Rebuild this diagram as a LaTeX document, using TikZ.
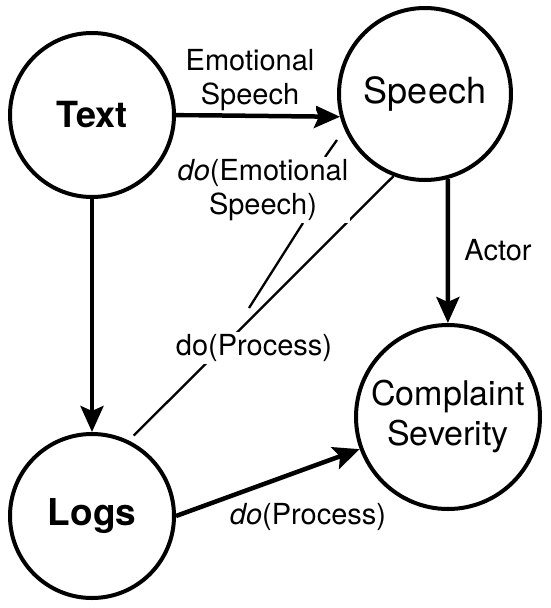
\documentclass[tikz,border=0pt]{standalone}
\usepackage{fontspec}
\setmainfont{TeX Gyre Heros}
\usetikzlibrary{arrows.meta}
\newlength{\smallvar}
\setlength{\smallvar}{164pt}
\tikzset{causalvar/.style={circle, draw, line width=4pt, inner sep=0pt, minimum size=\smallvar, font=\fontsize{36}{40}\selectfont}}
\tikzset{edgelabel/.style={fill=white, inner sep=2pt, align=center, font=\fontsize{29}{34}\selectfont}}
\tikzset{causal/.style={line width=4.5pt, -{Stealth[length=26pt, width=23pt, inset=5pt]}}}
\tikzset{intervene/.style={line width=2.3pt}}

\begin{document}
\begin{tikzpicture}[x=1pt, y=-1pt]
	\useasboundingbox[fill=white] (0,0) rectangle (550,608);
	
	%%% NODES %%%
	
	% VARIABLES
	\node[causalvar, font=\fontsize{36}{40}\selectfont\bfseries] at (92,115) (text) {Text};
	\node[causalvar, minimum size=172pt] at (425,94) (speech) {Speech};
	\node[causalvar, font=\fontsize{37}{40}\selectfont\bfseries] at (92,516) (logs) {Logs};
	\node[causalvar, minimum size=184pt, align=center, font=\fontsize{34}{40}\selectfont] at (448,417) (severity) {Complaint\\Severity};
	
	% FREE ENDS
	\coordinate (emoA) at (337,140);
	\coordinate (emoB) at (325,157);
	\coordinate (emoC) at (303,223);
	\coordinate (emoD) at (249,308);
	
	%%% ARROWS %%%
	
	% CAUSAL EDGES
	\draw[causal] (text.east) -- (speech.195);
	\draw[causal] (text) -- (logs);
	\draw[causal] (speech.285) -- (severity);
	\draw[causal] (logs.east) -- (severity.200);
	
	% INTERVENTIONS
	\draw[intervene] (emoA) -- (emoB);
	\draw[intervene] (emoC) -- (emoD);
	\draw[intervene, shorten >=7pt] (speech.249) -- (logs.64);
	
	%%% LABELS %%%
	\node[edgelabel] at (250,80) (emolabel) {Emotional\\Speech};
	\node[edgelabel] at (263,190) (doemo) {\textit{do}(Emotional\\Speech)};
	\node[edgelabel] at (254,348) (doproc) {do(Process)};
	\node[edgelabel] at (498,250) (actor) {Actor};
	\node[edgelabel] at (308,517) (doprocess) {\textit{do}(Process)};
	
\end{tikzpicture}
\end{document}
